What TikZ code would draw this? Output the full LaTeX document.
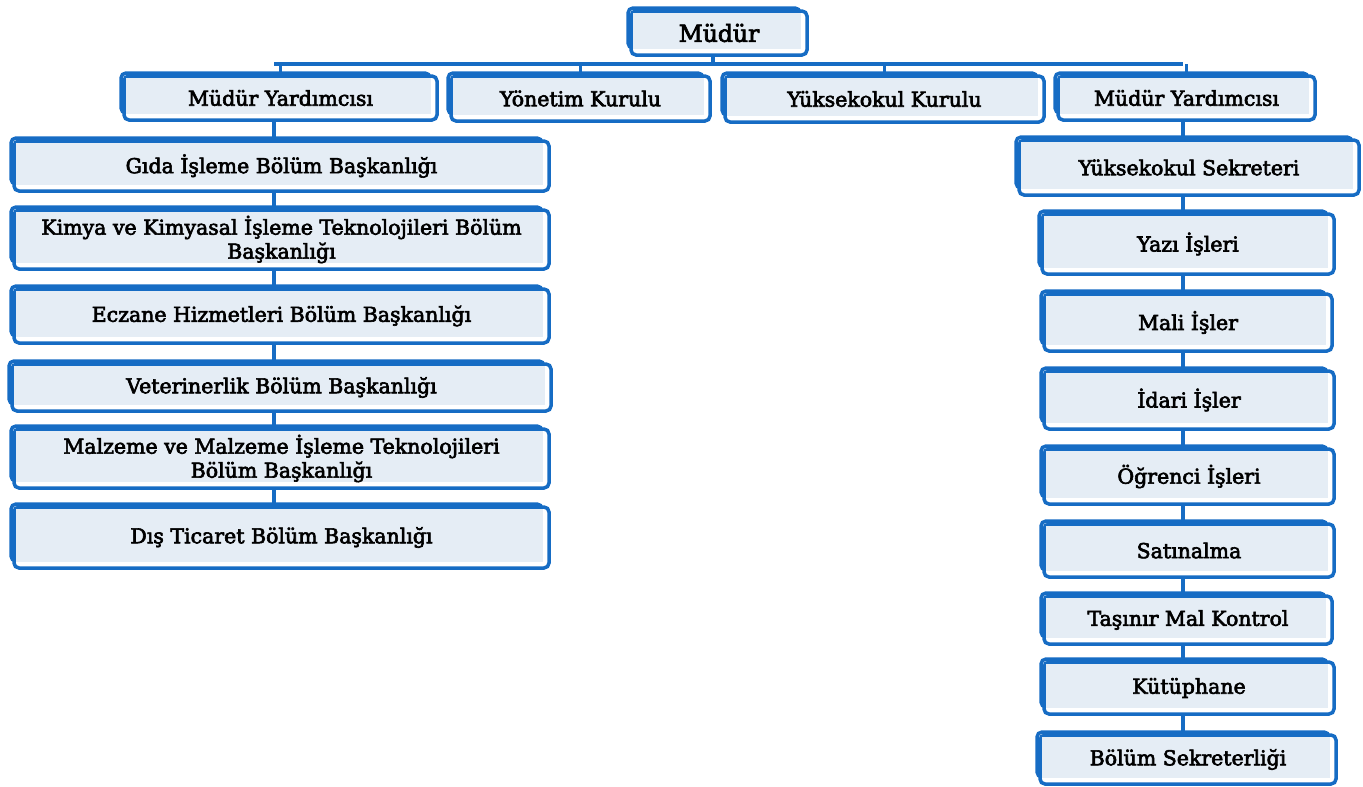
\documentclass[tikz,border=0pt]{standalone}
\usepackage{fontspec}
\setmainfont{DejaVu Serif}[RawFeature={embolden=3}]
\usetikzlibrary{backgrounds}
\definecolor{obl}{RGB}{22,108,196}
\definecolor{obg}{RGB}{229,237,245}
\tikzset{
  boxline/.style={draw=obl, line width=3.5pt, rounded corners=5pt},
  conn/.style={draw=obl, line width=3.5pt},
  lbl/.style={font=\fontsize{20.5}{24}\selectfont, align=center, inner sep=0pt, text=black},
}
% name, x1, y1, x2, y2, text
\newcommand\obox[6]{%
  \draw[boxline] (#2+1,#3+1) rectangle (#4-8,#5-8);
  \draw[boxline, fill=white] (#2+4,#3+4) rectangle (#4-1,#5-1);
  \fill[obg] (#2+5.5,#3+5.5) rectangle (#4-7.5,#5-7.5);
  \node[lbl, minimum width={(#4-#2-5)*1pt}, minimum height={(#5-#3-5)*1pt}]
    (#1) at ({(#2+#4)/2+1.5},{(#3+#5)/2+1.5}) {#6};
}
\begin{document}
\begin{tikzpicture}[x=1pt,y=-1pt]
\path[use as bounding box] (0,0) rectangle (1363,787);
% top
\obox{mdr}{627}{7}{808}{56}{\fontsize{23.5}{26}\selectfont Müdür}
\obox{myl}{120}{72}{438}{121}{Müdür Yardımcısı}
\obox{yk}{447}{72}{711}{122}{Yönetim Kurulu}
\obox{ykk}{721}{72}{1045}{123}{Yüksekokul Kurulu}
\obox{myr}{1054}{72}{1316}{121}{Müdür Yardımcısı}
% left column
\obox{gida}{10}{137}{550}{192}{Gıda İşleme Bölüm Başkanlığı}
\obox{kimya}{10}{206}{550}{270}{Kimya ve Kimyasal İşleme Teknolojileri Bölüm\\Başkanlığı}
\obox{ecz}{10}{285}{550}{344}{Eczane Hizmetleri Bölüm Başkanlığı}
\obox{vet}{8}{360}{552}{412}{Veterinerlik Bölüm Başkanlığı}
\obox{malz}{10}{425}{550}{489}{Malzeme ve Malzeme İşleme Teknolojileri\\Bölüm Başkanlığı}
\obox{dis}{10}{503}{550}{569}{Dış Ticaret Bölüm Başkanlığı}
% right column
\obox{ysek}{1015}{136}{1360}{196}{Yüksekokul Sekreteri}
\obox{yazi}{1038}{210}{1335}{275}{Yazı İşleri}
\obox{mali}{1040}{290}{1333}{352}{Mali İşler}
\obox{idari}{1040}{367}{1335}{430}{İdari İşler}
\obox{ogr}{1040}{445}{1335}{505}{Öğrenci İşleri}
\obox{sat}{1040}{520}{1335}{578}{Satınalma}
\obox{tas}{1040}{592}{1333}{645}{Taşınır Mal Kontrol}
\obox{kut}{1040}{658}{1335}{715}{Kütüphane}
\obox{bsek}{1036}{731}{1337}{785}{Bölüm Sekreterliği}
% connectors
\coordinate (bar) at (713,64);
\coordinate (lc) at (274,0);
\coordinate (rc) at (1183,0);
\begin{scope}[on background layer]
\draw[conn] (mdr.south -| bar) -- (bar);
\draw[conn] (bar -| lc) -- (bar -| rc);
\foreach \n in {myl,yk,ykk,myr}{\draw[conn] (\n.north) -- (\n.north |- bar);}
\draw[conn] (myl.south -| lc) -- (dis.north -| lc);
\draw[conn] (myr.south -| rc) -- (bsek.north -| rc);
\end{scope}
\end{tikzpicture}
\end{document}
